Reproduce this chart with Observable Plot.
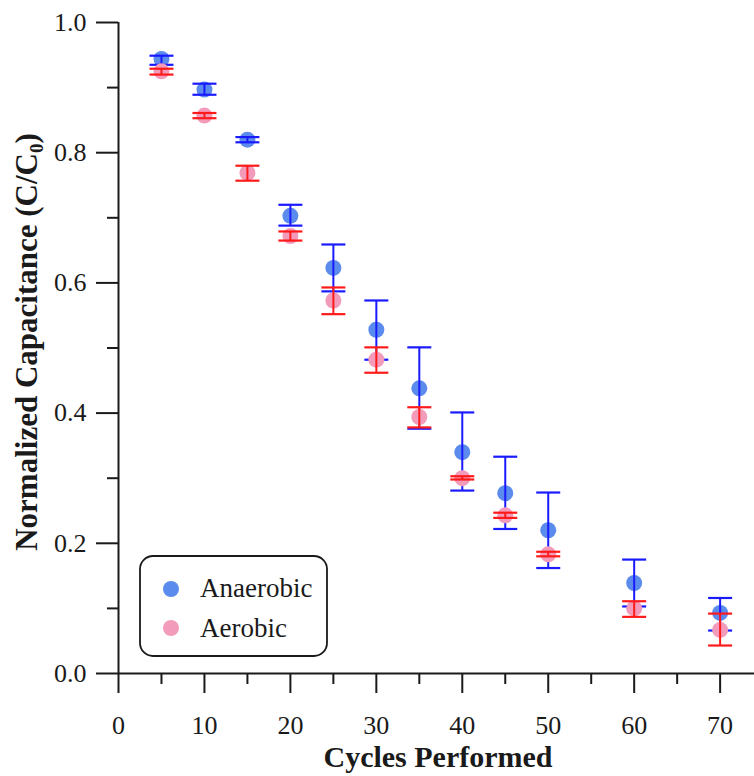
<!DOCTYPE html>
<html><head><meta charset="utf-8">
<script src="https://cdn.jsdelivr.net/npm/d3@7"></script>
<script src="https://cdn.jsdelivr.net/npm/@observablehq/plot@0.6"></script>
<style>body{margin:0;background:#fff}</style>
</head><body><div id="chart"></div>
<script>
const cycles = [5,10,15,20,25,30,35,40,45,50,60,70];
const anaerobicMean = [0.944,0.897,0.820,0.703,0.623,0.528,0.438,0.340,0.277,0.220,0.139,0.093];
const anaerobicHi   = [0.949,0.906,0.824,0.720,0.659,0.573,0.501,0.401,0.333,0.278,0.175,0.116];
const anaerobicLo   = [0.935,0.889,0.816,0.688,0.587,0.482,0.376,0.281,0.222,0.162,0.103,0.066];
const aerobicMean   = [0.925,0.857,0.769,0.672,0.573,0.482,0.394,0.300,0.243,0.183,0.100,0.067];
const aerobicHi     = [0.929,0.861,0.780,0.679,0.593,0.501,0.409,0.303,0.247,0.187,0.111,0.092];
const aerobicLo     = [0.920,0.853,0.757,0.665,0.552,0.462,0.378,0.298,0.239,0.180,0.087,0.043];

const yMajor = [0,0.2,0.4,0.6,0.8,1.0];
const yMinor = [0.1,0.3,0.5,0.7,0.9];
const xMajor = [0,10,20,30,40,50,60,70];
const xMinor = [5,15,25,35,45,55,65];
const seriesNames = ["Anaerobic","Aerobic"];

const anaerobic = cycles.map((c,i)=>({x:c, y:anaerobicMean[i], hi:anaerobicHi[i], lo:anaerobicLo[i]}));
const aerobic = cycles.map((c,i)=>({x:c, y:aerobicMean[i], hi:aerobicHi[i], lo:aerobicLo[i]}));

const capSymbol = {draw(ctx){ ctx.moveTo(-12,0); ctx.lineTo(12,0); }};
const dotBlue = "#5b8ced", dotPink = "#f39bbb", barBlue = "#1a1aff", barRed = "#ff1a1a";
const ink = "#1a1a1a";

function errorBars(data, color){
  return [
    Plot.ruleX(data, {x:"x", y1:"lo", y2:"hi", stroke:color, strokeWidth:2}),
    Plot.dot(data, {x:"x", y:"hi", symbol:capSymbol, r:8, fill:"none", stroke:color, strokeWidth:2.2}),
    Plot.dot(data, {x:"x", y:"lo", symbol:capSymbol, r:8, fill:"none", stroke:color, strokeWidth:2.2})
  ];
}

const chart = Plot.plot({
  width:754, height:776,
  marginLeft:118, marginRight:0, marginTop:22, marginBottom:103,
  style:{fontFamily:"'Liberation Serif', serif", fontSize:"26px", color:ink, background:"#fff"},
  x:{domain:[0,74]},
  y:{domain:[0,1]},
  marks:[
    Plot.axisY({ticks:yMajor, tickSize:22, tickPadding:10, tickFormat:d3.format(".1f"), label:null, strokeWidth:2, fontSize:26}),
    Plot.axisY({ticks:yMinor, tickSize:11, tickFormat:()=>"", label:null, strokeWidth:2}),
    Plot.axisX({ticks:xMajor, tickSize:20, tickPadding:22, tickFormat:d3.format("d"), label:null, strokeWidth:2, fontSize:26}),
    Plot.axisX({ticks:xMinor, tickSize:11, tickFormat:()=>"", label:null, strokeWidth:2}),
    Plot.ruleX([0], {stroke:ink, strokeWidth:2}),
    Plot.ruleY([0], {stroke:ink, strokeWidth:2}),
    Plot.dot(anaerobic, {x:"x", y:"y", r:8, fill:dotBlue, stroke:"none"}),
    ...errorBars(anaerobic, barBlue),
    Plot.dot(aerobic, {x:"x", y:"y", r:8, fill:dotPink, stroke:"none"}),
    ...errorBars(aerobic, barRed)
  ]
});

const svg = d3.select(chart);
svg.append("text")
  .attr("x", 438).attr("y", 767)
  .attr("text-anchor","middle")
  .attr("font-weight","bold").attr("font-size",30).attr("fill",ink)
  .text("Cycles Performed");

const yt = svg.append("text")
  .attr("transform","translate(37,342) rotate(-90)")
  .attr("text-anchor","middle")
  .attr("font-weight","bold").attr("font-size",31).attr("fill",ink);
yt.append("tspan").text("Normalized Capacitance (C/C");
yt.append("tspan").attr("font-size",19).attr("dy",6).text("0");
yt.append("tspan").attr("dy",-6).text(")");

const lg = svg.append("g");
lg.append("rect").attr("x",140).attr("y",556).attr("width",187).attr("height",100)
  .attr("rx",13).attr("fill","#fff").attr("stroke",ink).attr("stroke-width",1.8);
[dotBlue, dotPink].forEach((c,i)=>{
  lg.append("circle").attr("cx",171).attr("cy",589+i*39).attr("r",8).attr("fill",c);
  lg.append("text").attr("x",200).attr("y",597+i*40).attr("text-anchor","start")
    .attr("font-size",27).attr("fill",ink).text(seriesNames[i]);
});

document.getElementById("chart").appendChild(chart);
</script>
</body></html>
